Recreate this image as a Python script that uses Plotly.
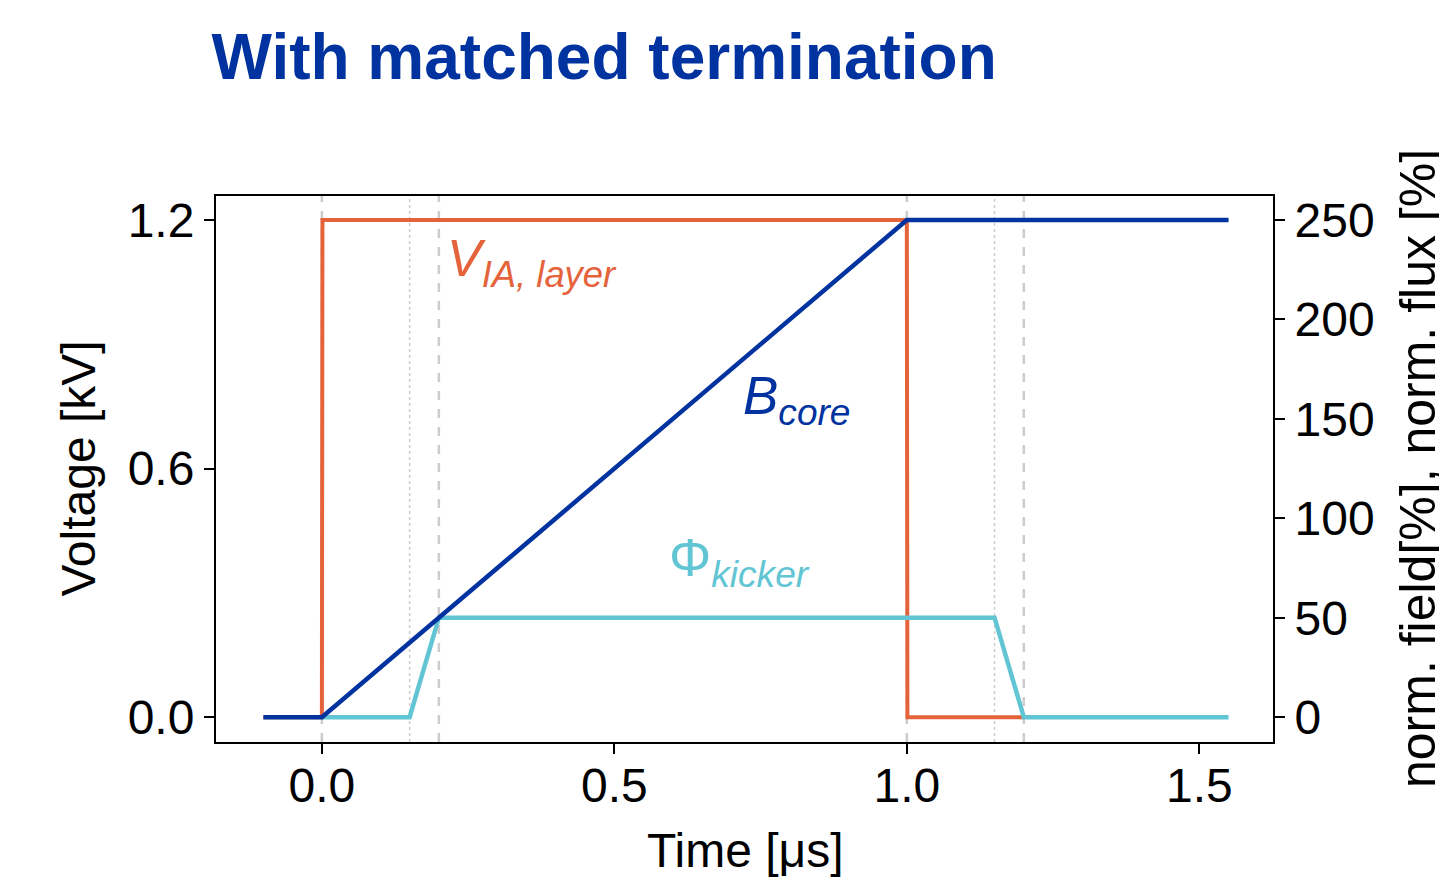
import plotly.graph_objects as go

# ---- data ----
t_v = [-0.1, 0.0, 0.001, 1.0, 1.001, 1.2]
v_layer = [0.0, 0.0, 1.2, 1.2, 0.0, 0.0]          # kV

t_b = [-0.1, 0.0, 1.0, 1.55]
b_core = [0, 0, 250, 250]                          # %

t_phi = [0.0, 0.15, 0.2, 1.15, 1.2, 1.55]
phi_kicker = [0, 0, 50, 50, 0, 0]                  # %

vline_dashed = [0.0, 0.2, 1.0, 1.2]
vline_dotted = [0.15, 1.15]

x_ticks = [0.0, 0.5, 1.0, 1.5]
x_ticklabels = ["0.0", "0.5", "1.0", "1.5"]
y_ticks = [0.0, 0.6, 1.2]
y_ticklabels = ["0.0", "0.6", "1.2"]
y2_ticks = [0, 50, 100, 150, 200, 250]

ORANGE = "#E4633A"
BLUE = "#0033A0"
CYAN = "#62C5D3"
FONT = "Liberation Sans, Arial, sans-serif"

fig = go.Figure()
fig.add_trace(go.Scatter(x=t_v, y=v_layer, mode="lines",
                         line=dict(color=ORANGE, width=4), yaxis="y"))
fig.add_trace(go.Scatter(x=t_phi, y=phi_kicker, mode="lines",
                         line=dict(color=CYAN, width=4.5), yaxis="y2"))
fig.add_trace(go.Scatter(x=t_b, y=b_core, mode="lines",
                         line=dict(color=BLUE, width=4.5), yaxis="y2"))

shapes = []
for xv in vline_dashed:
    shapes.append(dict(type="line", xref="x", yref="paper", x0=xv, x1=xv, y0=0, y1=1,
                       line=dict(color="#cccccc", width=2.5, dash="dash"), layer="below"))
for xv in vline_dotted:
    shapes.append(dict(type="line", xref="x", yref="paper", x0=xv, x1=xv, y0=0, y1=1,
                       line=dict(color="#cccccc", width=1.5, dash="dot"), layer="below"))

yr = [-0.06, 1.258]
fig.update_layout(
    width=1439, height=882,
    margin=dict(l=216, r=166, t=196, b=140),
    paper_bgcolor="white", plot_bgcolor="white",
    showlegend=False,
    font=dict(family=FONT, color="black", size=48),
    shapes=shapes,
    title=dict(text="<b>With matched termination</b>", x=0.147, xanchor="left",
               y=1 - 57 / 882, yanchor="middle", xref="container", yref="container",
               font=dict(family=FONT, size=64, color=BLUE)),
    xaxis=dict(range=[-0.181, 1.626], tickvals=x_ticks, ticktext=x_ticklabels,
               showgrid=False, zeroline=False, showline=True, linecolor="black",
               linewidth=2, mirror=True, ticks="outside", ticklen=10, tickwidth=2,
               tickcolor="black", tickfont=dict(size=48), ticklabelstandoff=-10),
    yaxis=dict(range=yr, tickvals=y_ticks, ticktext=y_ticklabels,
               showgrid=False, zeroline=False, showline=True, linecolor="black",
               linewidth=2, ticks="outside", ticklen=10, tickwidth=2,
               tickcolor="black", tickfont=dict(size=48)),
    yaxis2=dict(range=[yr[0] * 250 / 1.2, yr[1] * 250 / 1.2], tickvals=y2_ticks,
                overlaying="y", side="right", showgrid=False, zeroline=False,
                showline=True, linecolor="black", linewidth=2, ticks="outside",
                ticklen=10, tickwidth=2, tickcolor="black", tickfont=dict(size=48)),
    annotations=[
        dict(text="Voltage [kV]", xref="paper", yref="paper", x=-0.131, y=0.5,
             textangle=-90, showarrow=False, font=dict(size=48),
             xanchor="center", yanchor="middle"),
        dict(text="norm. field[%], norm. flux [%]", xref="paper", yref="paper",
             x=(1418 - 216) / (1273 - 216), y=(742 - 469) / (742 - 196),
             textangle=-90, showarrow=False, font=dict(size=50),
             xanchor="center", yanchor="middle"),
        dict(text="Time [μs]", xref="paper", yref="paper", x=(745 - 216) / (1273 - 216),
             y=-(850 - 742) / (742 - 196), showarrow=False, font=dict(size=48),
             xanchor="center", yanchor="middle"),
        dict(text="<i>V<sub>IA, layer</sub></i>", x=0.210, y=1.182, xref="x", yref="y",
             showarrow=False, xanchor="left", yanchor="top",
             font=dict(size=52, color=ORANGE)),
        dict(text="<i>B<sub>core</sub></i>", x=0.716, y=0.852, xref="x", yref="y",
             showarrow=False, xanchor="left", yanchor="top",
             font=dict(size=53, color=BLUE)),
        dict(text="Φ<i><sub>kicker</sub></i>", x=0.590, y=0.462, xref="x", yref="y",
             showarrow=False, xanchor="left", yanchor="top",
             font=dict(size=53, color=CYAN)),
    ],
)

fig.write_html("out.html")
